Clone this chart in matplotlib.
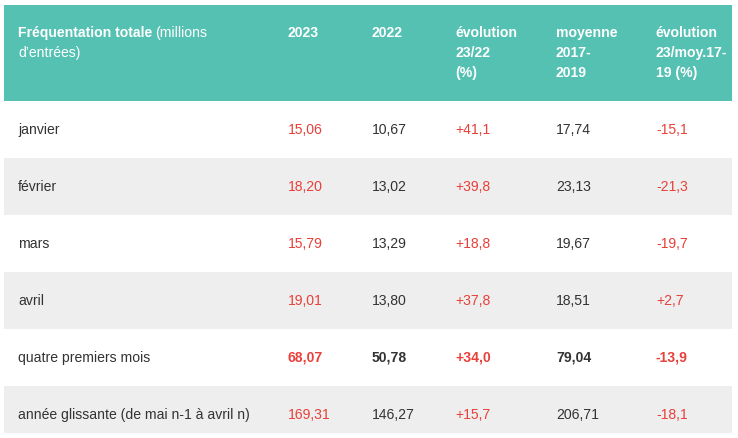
import matplotlib
matplotlib.use("Agg")
import matplotlib.pyplot as plt
from matplotlib.patches import Rectangle

plt.rcParams['font.family'] = ['Liberation Sans', 'DejaVu Sans']

# data
row_labels = ["janvier", "février", "mars", "avril",
              "quatre premiers mois", "année glissante (de mai n-1 à avril n)"]
val_2023 = ["15,06", "18,20", "15,79", "19,01", "68,07", "169,31"]
val_2022 = ["10,67", "13,02", "13,29", "13,80", "50,78", "146,27"]
evol_23_22 = ["+41,1", "+39,8", "+18,8", "+37,8", "+34,0", "+15,7"]
moy_17_19 = ["17,74", "23,13", "19,67", "18,51", "79,04", "206,71"]
evol_23_moy = ["-15,1", "-21,3", "-19,7", "+2,7", "-13,9", "-18,1"]
col_headers = ["2023", "2022", "évolution\n23/22\n(%)", "moyenne\n2017-\n2019",
               "évolution\n23/moy.17-\n19 (%)"]
bold_rows = [4]

TEAL = "#55c1b3"
RED = "#e8403a"
DARK = "#333333"
GRAY = "#eeeeee"

W, H = 738, 438
fig = plt.figure(figsize=(W / 100, H / 100), dpi=100)
ax = fig.add_axes([0, 0, 1, 1])
ax.set_xlim(0, W); ax.set_ylim(H, 0); ax.axis("off")

x0, x1 = 4, 732
col_x = [18, 288, 372, 455, 556, 656]
head_top, head_bot = 5, 101
row_h = 57
fs = 10.1

ax.add_patch(Rectangle((x0, head_top), x1 - x0, head_bot - head_top, color=TEAL, lw=0))

# first header cell: bold part + normal part
t = ax.text(col_x[0], 33, "Fréquentation totale", color="white", fontsize=fs,
            fontweight="bold", va="center")
fig.canvas.draw()
bb = t.get_window_extent(renderer=fig.canvas.get_renderer())
inv = ax.transData.inverted()
xe = inv.transform((bb.x1, bb.y0))[0]
ax.text(xe + 3, 33, "(millions", color="white", fontsize=fs, va="center")
ax.text(col_x[0], 53, "d\u2019entrées)", color="white", fontsize=fs, va="center")

for j, h in enumerate(col_headers):
    for k, line in enumerate(h.split("\n")):
        ax.text(col_x[j + 1], 33 + 20 * k, line, color="white", fontsize=fs,
                fontweight="bold", va="center")

columns = [val_2023, val_2022, evol_23_22, moy_17_19, evol_23_moy]
red_cols = [0, 2, 4]
for i, lab in enumerate(row_labels):
    top = head_bot + i * row_h
    if i % 2 == 1:
        ax.add_patch(Rectangle((x0, top), x1 - x0, row_h if i < 5 else 47,
                               color=GRAY, lw=0))
    yc = top + 29
    ax.text(col_x[0], yc, lab, color=DARK, fontsize=fs, va="center")
    w = "bold" if i in bold_rows else "normal"
    for j, col in enumerate(columns):
        c = RED if j in red_cols else DARK
        ax.text(col_x[j + 1], yc, col[i], color=c, fontsize=fs, va="center",
                fontweight=w)

fig.savefig("out.png", dpi=100)
